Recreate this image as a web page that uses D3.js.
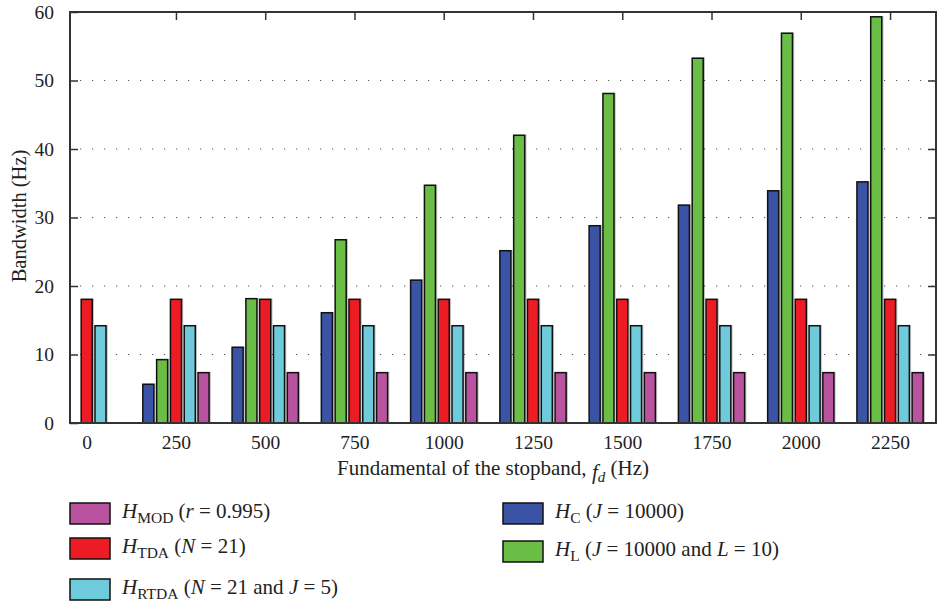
<!DOCTYPE html>
<html>
<head>
<meta charset="utf-8">
<script src="https://cdn.jsdelivr.net/npm/d3@7"></script>
<style>
  html, body { margin: 0; padding: 0; background: #fff; }
  svg { display: block; font-family: "Liberation Serif", "DejaVu Serif", serif; }
</style>
</head>
<body>
<svg id="chart" width="937" height="606"></svg>
<script>
// Stopband fundamentals (Hz) along the x axis
const categories = ["0", "250", "500", "750", "1000", "1250", "1500", "1750", "2000", "2250"];

// Bandwidth (Hz) for each comb-filter design
const hC    = [0, 5.65, 11.05, 16.1, 20.85, 25.15, 28.8, 31.8, 33.9, 35.2];
const hL    = [0, 9.25, 18.15, 26.75, 34.7, 42.0, 48.1, 53.25, 56.9, 59.3];
const hTDA  = [18.05, 18.05, 18.05, 18.05, 18.05, 18.05, 18.05, 18.05, 18.05, 18.05];
const hRTDA = [14.2, 14.2, 14.2, 14.2, 14.2, 14.2, 14.2, 14.2, 14.2, 14.2];
const hMOD  = [0, 7.35, 7.35, 7.35, 7.35, 7.35, 7.35, 7.35, 7.35, 7.35];

const yTicks = [0, 10, 20, 30, 40, 50, 60];

// Bar order within a group, left to right
const series = [
  { key: "C",    values: hC,    color: "#3a53a4" },
  { key: "L",    values: hL,    color: "#6abd45" },
  { key: "TDA",  values: hTDA,  color: "#ed1c24" },
  { key: "RTDA", values: hRTDA, color: "#6dcbdc" },
  { key: "MOD",  values: hMOD,  color: "#b9529f" }
];

const svg = d3.select("#chart");
const plot = { left: 70, right: 936, top: 12, bottom: 423 };

// Group index -> pixel position (axis limits a little wider on the right)
const x = d3.scaleLinear().domain([-0.187, 9.515]).range([plot.left, plot.right]);
const y = d3.scaleLinear().domain([0, 60]).range([plot.bottom, plot.top]);
const inner = d3.scaleBand().domain(series.map(s => s.key))
  .range([-34.5, 34.5]).paddingInner(0.2).paddingOuter(0.1);

svg.append("defs").append("clipPath").attr("id", "plotclip")
  .append("rect").attr("x", plot.left).attr("y", plot.top)
  .attr("width", plot.right - plot.left).attr("height", plot.bottom - plot.top);

// Dotted horizontal grid
svg.append("g").selectAll("line")
  .data(yTicks.filter(t => t > 0 && t < 60))
  .join("line")
  .attr("x1", plot.left + 10).attr("x2", plot.right)
  .attr("y1", d => y(d)).attr("y2", d => y(d))
  .attr("stroke", "#555").attr("stroke-width", 1.2)
  .attr("stroke-dasharray", "1.2,10.8");

// Bars
const bars = svg.append("g").attr("clip-path", "url(#plotclip)");
series.forEach(s => {
  bars.append("g").selectAll("rect")
    .data(s.values.map((v, i) => ({ v, i })))
    .join("rect")
    .attr("x", d => x(d.i) + inner(s.key))
    .attr("width", inner.bandwidth())
    .attr("y", d => y(d.v))
    .attr("height", d => y(0) - y(d.v))
    .attr("fill", s.color)
    .attr("stroke", "#111")
    .attr("stroke-width", 1.5)
    .style("filter", "drop-shadow(1px 0px 0px rgba(0,0,0,0.25))");
});

// Frame
const axisColor = "#333";
svg.append("rect")
  .attr("x", plot.left).attr("y", plot.top)
  .attr("width", plot.right - plot.left).attr("height", plot.bottom - plot.top)
  .attr("fill", "none").attr("stroke", axisColor).attr("stroke-width", 2);

// Y axis ticks (inward, both sides) and labels
const yAxisL = d3.axisLeft(y).tickValues(yTicks).tickSizeInner(-8).tickSizeOuter(0).tickPadding(16);
const gy = svg.append("g").attr("transform", `translate(${plot.left},0)`).call(yAxisL);
gy.select(".domain").remove();
gy.selectAll(".tick line").attr("stroke", axisColor).attr("stroke-width", 1.5);
gy.selectAll(".tick text").attr("font-size", 19.5).attr("fill", "#222")
  .attr("font-family", "Liberation Serif, serif");

const yAxisR = d3.axisRight(y).tickValues(yTicks.filter(t => t > 0 && t < 60)).tickSizeInner(-8).tickSizeOuter(0).tickFormat("");
const gyr = svg.append("g").attr("transform", `translate(${plot.right},0)`).call(yAxisR);
gyr.select(".domain").remove();
gyr.selectAll(".tick line").attr("stroke", axisColor).attr("stroke-width", 1.5);

// X axis labels (bottom) and inward ticks on the top edge
const xAxisB = d3.axisBottom(x).tickValues(d3.range(categories.length))
  .tickFormat(i => categories[i]).tickSize(0).tickPadding(12);
const gx = svg.append("g").attr("transform", `translate(0,${plot.bottom})`).call(xAxisB);
gx.select(".domain").remove();
gx.selectAll(".tick text").attr("font-size", 19.5).attr("fill", "#222")
  .attr("font-family", "Liberation Serif, serif");

const xAxisT = d3.axisTop(x).tickValues(d3.range(1, categories.length))
  .tickSizeInner(-8).tickSizeOuter(0).tickFormat("");
const gxt = svg.append("g").attr("transform", `translate(0,${plot.top})`).call(xAxisT);
gxt.select(".domain").remove();
gxt.selectAll(".tick line").attr("stroke", axisColor).attr("stroke-width", 1.5);

// Axis titles
svg.append("text")
  .attr("transform", "translate(26,216) rotate(-90)")
  .attr("text-anchor", "middle").attr("font-size", 20.5).attr("fill", "#222")
  .text("Bandwidth (Hz)");

const xt = svg.append("text")
  .attr("x", 337).attr("y", 475).attr("font-size", 21).attr("fill", "#222");
xt.append("tspan").text("Fundamental of the stopband, ");
xt.append("tspan").attr("font-style", "italic").attr("dy", 4).text("f");
xt.append("tspan").attr("font-style", "italic").attr("font-size", 15).attr("dy", 3).text("d");
xt.append("tspan").attr("dy", -7).text(" (Hz)");

// Legend
const legendItems = [
  { key: "MOD",  x: 70,  y: 503, sub: "MOD",  parts: [["(", ""], ["r", "i"], [" = 0.995)", ""]] },
  { key: "TDA",  x: 70,  y: 538, sub: "TDA",  parts: [["(", ""], ["N", "i"], [" = 21)", ""]] },
  { key: "RTDA", x: 70,  y: 579, sub: "RTDA", parts: [["(", ""], ["N", "i"], [" = 21 and ", ""], ["J", "i"], [" = 5)", ""]] },
  { key: "C",    x: 503, y: 503, sub: "C",    parts: [["(", ""], ["J", "i"], [" = 10000)", ""]] },
  { key: "L",    x: 503, y: 541, sub: "L",    parts: [["(", ""], ["J", "i"], [" = 10000 and ", ""], ["L", "i"], [" = 10)", ""]] }
];
const colorOf = Object.fromEntries(series.map(s => [s.key, s.color]));

const lg = svg.append("g").selectAll("g").data(legendItems).join("g")
  .attr("transform", d => `translate(${d.x},${d.y})`);
lg.append("rect")
  .attr("width", 40).attr("height", 21)
  .attr("fill", d => colorOf[d.key]).attr("stroke", "#111").attr("stroke-width", 1.5);
lg.each(function(d) {
  const t = d3.select(this).append("text")
    .attr("x", 52).attr("y", 15).attr("font-size", 21).attr("fill", "#222");
  t.append("tspan").attr("font-style", "italic").text("H");
  t.append("tspan").attr("font-size", 15.5).attr("dy", 5).text(d.sub);
  t.append("tspan").attr("dy", -5).text(" ");
  d.parts.forEach(([s, f]) => {
    t.append("tspan").attr("font-style", f === "i" ? "italic" : "normal").text(s);
  });
});
</script>
</body>
</html>
